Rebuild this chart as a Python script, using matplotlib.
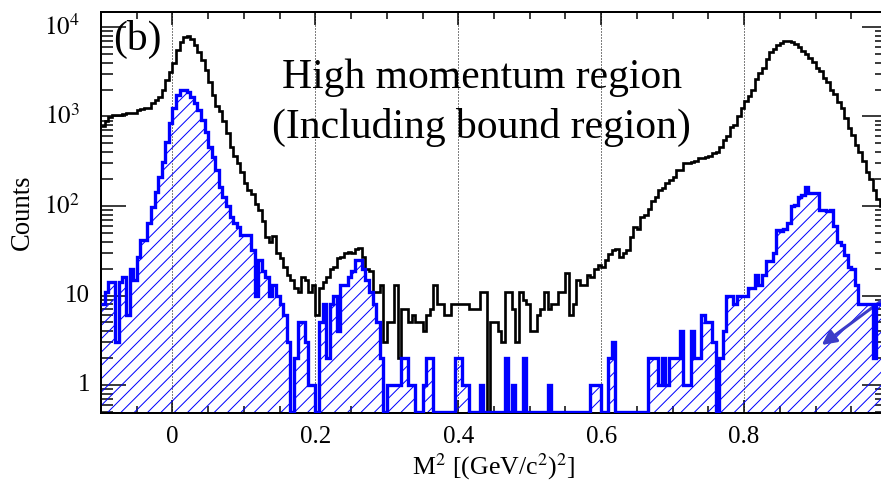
import numpy as np
import matplotlib
matplotlib.use("Agg")
import matplotlib.pyplot as plt
from matplotlib.ticker import FixedLocator, LogLocator, MultipleLocator, NullFormatter
from matplotlib.transforms import ScaledTranslation

DPI = 120
W_PX, H_PX = 881, 481

# histogram binning: 220 bins of 0.005 from -0.1 to 1.0
X_MIN, X_MAX, N_BINS = -0.1, 1.0, 220
Y_MIN, Y_MAX = 0.487, 14700

# all events (black)
BLACK_COUNTS = [
    780, 900, 990, 1030, 1040, 1050, 1060, 1080, 1090, 1100,
    1180, 1200, 1240, 1260, 1400, 1530, 1660, 1980, 2560, 3170,
    3930, 5530, 6850, 7800, 8000, 7400, 6300, 5300, 4300, 3300,
    2450, 1740, 1300, 1150, 880, 650, 460, 360, 300, 240,
    180, 150, 135, 105, 90, 68, 45, 40, 46, 30,
    26, 21, 17, 15, 12, 11, 16, 15, 11, 13,
    6, 12, 14, 16, 20, 21, 26, 27, 30, 31,
    30, 33, 34, 27, 20, 19, 11, 11, 13, 3,
    5, 5, 13, 2, 7, 7, 5, 6, 5, 5,
    4, 6, 7, 13, 8, 8, 6, 6, 8, 8,
    8, 8, 8, 7, 7, 7, 11, 11, 0, 5,
    5, 4, 3, 11, 11, 7, 3, 11, 9, 8,
    4, 4, 6, 7, 11, 7, 8, 8, 11, 11,
    18, 6, 8, 15, 13, 13, 17, 16, 20, 22,
    21, 25, 29, 32, 33, 27, 30, 32, 45, 58,
    55, 76, 80, 92, 115, 125, 150, 160, 180, 195,
    210, 250, 255, 300, 305, 313, 320, 340, 345, 356,
    360, 388, 400, 460, 540, 600, 770, 800, 1000, 1250,
    1500, 1700, 2000, 2600, 3100, 3500, 4400, 5200, 5700, 6300,
    6700, 6900, 6900, 6800, 6400, 6000, 5400, 5000, 4500, 4100,
    3500, 3200, 2700, 2400, 2000, 1800, 1450, 1250, 950, 750,
    620, 480, 400, 320, 240, 200, 150, 120, 100, 85,
]

# selected events (blue, hatched)
BLUE_COUNTS = [
    8, 11, 14, 14, 3, 14, 16, 6, 20, 15,
    27, 42, 42, 64, 98, 145, 213, 313, 523, 839,
    1234, 1740, 1980, 1980, 1900, 1670, 1400, 1180, 914, 677,
    460, 356, 253, 164, 127, 100, 75, 64, 59, 47,
    47, 47, 32, 10, 25, 19, 16, 10, 13, 10,
    8, 6, 3, 0, 2, 5, 5, 3, 1, 1,
    0, 5, 8, 2, 8, 10, 4, 13, 13, 16,
    19, 25, 25, 20, 15, 11, 8, 5, 2, 0,
    1, 1, 1, 1, 2, 2, 1, 1, 0, 0,
    1, 2, 2, 0, 0, 0, 0, 0, 0, 2,
    2, 1, 1, 0, 0, 0, 1, 0, 0, 0,
    0, 0, 0, 2, 0, 1, 0, 0, 2, 0,
    0, 0, 0, 0, 0, 1, 0, 0, 0, 0,
    0, 0, 0, 0, 0, 0, 0, 1, 1, 1,
    0, 0, 2, 3, 0, 0, 0, 0, 0, 0,
    0, 0, 0, 2, 2, 2, 1, 2, 1, 2,
    2, 2, 4, 1, 1, 4, 2, 2, 6, 5,
    5, 3, 0, 2, 4, 10, 10, 8, 10, 10,
    10, 12, 12, 17, 13, 17, 24, 24, 30, 54,
    52, 55, 64, 100, 103, 125, 133, 164, 140, 140,
    140, 90, 90, 88, 90, 60, 40, 37, 28, 21,
    20, 13, 8, 8, 8, 8, 2, 8, 8, 6,
]

X_TICKS = [0, 0.2, 0.4, 0.6, 0.8, 1.0]
X_TICK_LABELS = ["0", "0.2", "0.4", "0.6", "0.8", ""]
Y_TICKS = [1, 10, 100, 1000, 10000]
Y_TICK_LABELS = ["1", "10", r"$10^{2}$", r"$10^{3}$", r"$10^{4}$"]


def px(x, y):
    """figure fraction from pixel position measured from the top-left"""
    return x / W_PX, 1 - y / H_PX


plt.rcParams.update({
    "font.family": ["Liberation Serif", "DejaVu Serif"],
    "mathtext.fontset": "stix",
    "hatch.linewidth": 0.6,
    "hatch.color": "blue",
})

fig = plt.figure(figsize=(W_PX / DPI, H_PX / DPI), dpi=DPI, facecolor="white")
# right frame edge sits just outside the picture, as in the reference crop
ax = fig.add_axes([101 / W_PX, 68 / H_PX, 786 / W_PX, 401 / H_PX])

edges = np.linspace(X_MIN, X_MAX, N_BINS + 1)
black = np.array(BLACK_COUNTS, dtype=float)
blue = np.array(BLUE_COUNTS, dtype=float)
# empty bins are drawn down to the frame bottom, ROOT style
floor = Y_MIN * 1.02
black_draw = np.where(black > 0, black, floor)
blue_draw = np.where(blue > 0, blue, floor)

ax.stairs(black_draw, edges, color="black", linewidth=1.6, baseline=None, zorder=3)
ax.stairs(blue_draw, edges, baseline=Y_MIN * 0.5, fill=True, facecolor="none",
          edgecolor="blue", hatch="///", linewidth=0, zorder=2)
ax.stairs(blue_draw, edges, color="blue", linewidth=2.0, baseline=None, zorder=4)

ax.set_yscale("log")
ax.set_xlim(X_MIN, X_MAX)
ax.set_ylim(Y_MIN, Y_MAX)

ax.set_xticks(X_TICKS, X_TICK_LABELS)
ax.xaxis.set_minor_locator(MultipleLocator(0.05))
ax.tick_params(axis="x", which="both", direction="in", top=True, bottom=True,
               labelsize=15, pad=7.5, width=0.9)
ax.tick_params(axis="x", which="major", length=7.8)
ax.tick_params(axis="x", which="minor", length=4.2)

ax.yaxis.set_major_locator(FixedLocator(Y_TICKS))
ax.yaxis.set_minor_locator(LogLocator(base=10, subs=range(2, 10), numticks=30))
ax.yaxis.set_major_formatter(NullFormatter())
ax.yaxis.set_minor_formatter(NullFormatter())
ax.tick_params(axis="y", which="both", direction="in", left=True, right=True, width=0.9)
ax.tick_params(axis="y", which="major", length=15)
ax.tick_params(axis="y", which="minor", length=7.2)

# y labels: plain numbers sit closer to the frame than the powers of ten
for val, lab in zip(Y_TICKS, Y_TICK_LABELS):
    shift = 11 if val < 100 else 21
    trans = ax.get_yaxis_transform() + ScaledTranslation(-shift / DPI, 0, fig.dpi_scale_trans)
    ax.text(0, val, lab, transform=trans, ha="right", va="center", fontsize=15)

ax.grid(axis="x", which="major", color="black", linestyle=(0, (1, 2)), linewidth=0.6)
for spine in ax.spines.values():
    spine.set_linewidth(1.2)

fig.text(*px(494, 474), r"M$^{2}$ [(GeV/c$^{2}$)$^{2}$]", ha="center", va="baseline", fontsize=15.5)
fig.text(*px(22, 212), "Counts", rotation=90, ha="center", va="center", fontsize=16)

fig.text(*px(137, 39), "(b)", ha="center", va="center", fontsize=25)
fig.text(*px(482, 88), "High momentum region", ha="center", va="baseline", fontsize=25)
fig.text(*px(481, 138), "(Including bound region)", ha="center", va="baseline", fontsize=25)

ax.annotate("", xy=(821.7, H_PX - 345), xycoords="figure pixels",
            xytext=(900, H_PX - 287), textcoords="figure pixels",
            arrowprops=dict(arrowstyle="-|>", color="#3c3cc8", lw=1.8,
                            mutation_scale=18, shrinkA=0, shrinkB=0),
            annotation_clip=False)

fig.savefig("out.png", dpi=DPI, facecolor="white")
